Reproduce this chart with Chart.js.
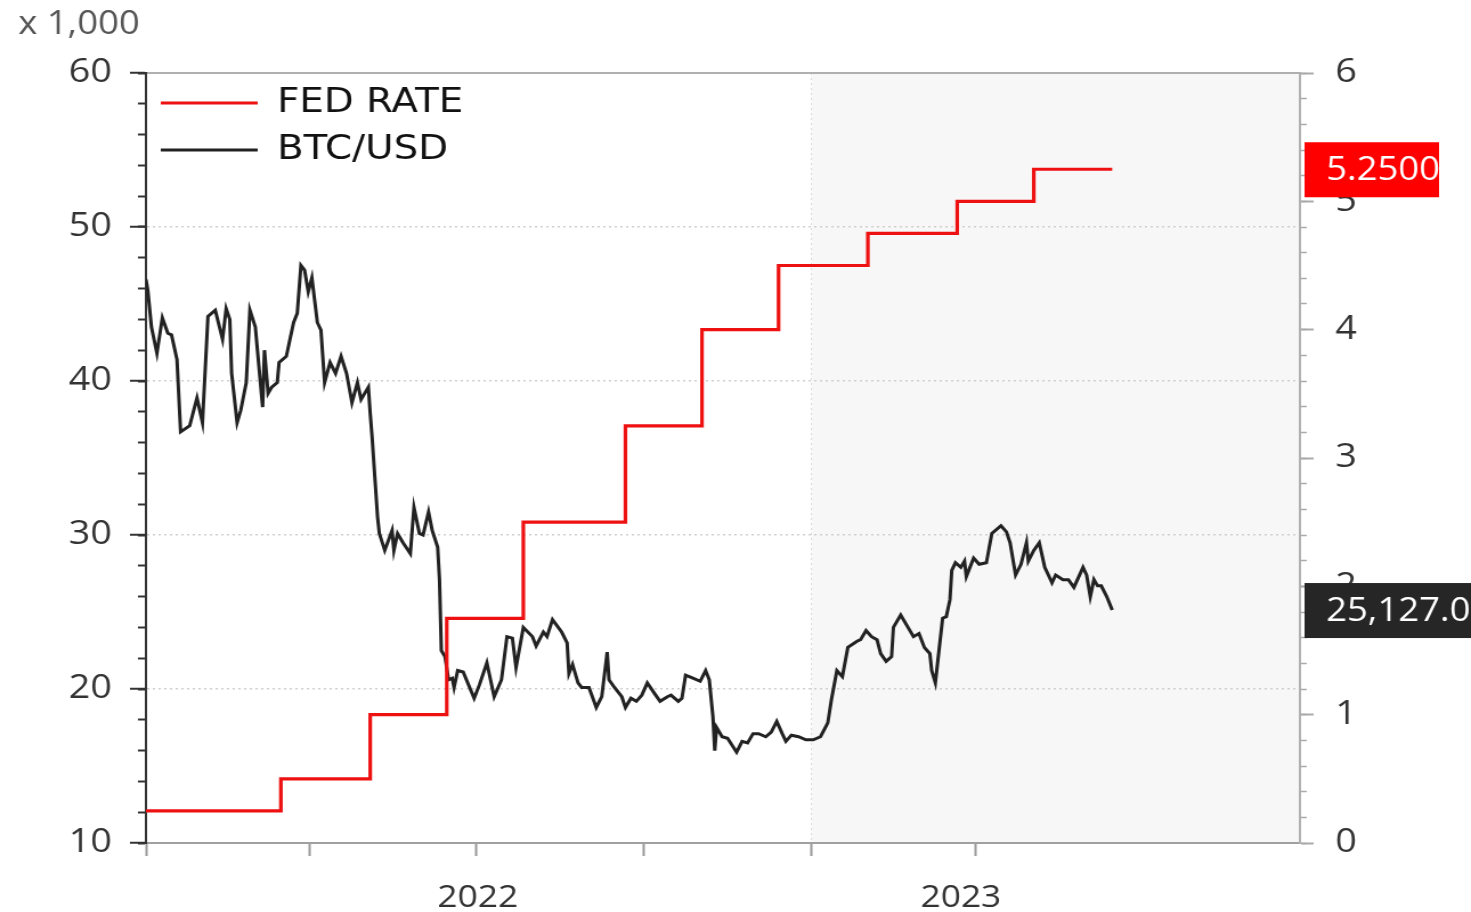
<!DOCTYPE html>
<html>
<head>
<meta charset="utf-8">
<script src="https://cdn.jsdelivr.net/npm/chart.js@4.4.0/dist/chart.umd.min.js"></script>
<style>
  html, body { margin: 0; padding: 0; background: #fff; overflow: hidden; }
  /* the source picture is stretched sideways, so the chart is drawn narrower and widened */
  #wrap { width: 1290px; height: 912px; position: relative; transform: scaleX(1.1403); transform-origin: 0 0; }
</style>
</head>
<body>
<div id="wrap"><canvas id="chart"></canvas></div>
<script>
// x values are day numbers counted from 1 Jan 2022
const fedDays  = [0, 74, 123, 165, 207, 263, 305, 347, 396, 445, 487, 530];
const fedRates = [0.25, 0.5, 1.0, 1.75, 2.5, 3.25, 4.0, 4.5, 4.75, 5.0, 5.25, 5.25];

const btcDays = [
  0, 1, 3, 6, 9, 12, 14, 17, 19, 24, 28, 31, 34, 38, 42, 44, 46, 47, 50, 52,
  55, 57, 60, 64, 65, 67, 69, 72, 73, 77, 81, 83, 85, 87, 89, 91, 94, 96, 98, 101,
  104, 107, 110, 113, 116, 118, 122, 123, 124, 127, 128, 131, 135, 136, 138, 141, 145, 147, 150, 152,
  155, 157, 160, 161, 162, 164, 166, 168, 169, 171, 174, 180, 183, 187, 191, 195, 198, 201, 203, 207,
  212, 214, 218, 220, 223, 228, 231, 232, 234, 237, 239, 243, 247, 250, 253, 254, 257, 261, 263, 266,
  269, 272, 275, 279, 282, 286, 288, 292, 294, 296, 300, 304, 307, 309, 311, 312, 313, 316, 319, 324,
  327, 330, 333, 336, 340, 343, 346, 349, 351, 354, 358, 362, 366, 370, 374, 376, 379, 382, 385, 390,
  392, 395, 398, 401, 403, 406, 409, 410, 414, 418, 421, 424, 427, 430, 431, 433, 435, 437, 439, 441,
  442, 444, 447, 449, 450, 454, 457, 461, 464, 469, 472, 474, 477, 480, 483, 484, 487, 490, 493, 497,
  499, 503, 506, 509, 514, 516, 518, 520, 522, 524, 527, 530
];
const btcValues = [ // x 1,000 USD
  46.6, 45.9, 43.5, 41.8, 44.1, 43.1, 43.0, 41.4, 36.7, 37.1, 38.9, 37.3, 44.2, 44.6, 42.7, 44.7, 44.0, 40.5, 37.3, 38.1,
  39.9, 44.6, 43.5, 38.3, 42.0, 39.2, 39.6, 39.9, 41.2, 41.6, 43.8, 44.4, 47.5, 47.2, 45.8, 46.7, 43.8, 43.3, 39.9, 41.2,
  40.5, 41.6, 40.5, 38.6, 39.9, 38.8, 39.6, 37.9, 36.4, 31.2, 30.1, 29.0, 30.3, 29.0, 30.1, 29.5, 28.8, 31.8, 30.1, 30.0,
  31.5, 30.3, 29.2, 27.1, 22.5, 22.1, 20.6, 20.7, 20.1, 21.2, 21.1, 19.4, 20.3, 21.7, 19.5, 20.6, 23.4, 23.3, 21.4, 24.0,
  23.4, 22.8, 23.7, 23.4, 24.5, 23.7, 23.0, 21.0, 21.6, 20.4, 20.1, 20.1, 18.8, 19.5, 22.4, 20.6, 20.1, 19.5, 18.8, 19.4,
  19.2, 19.6, 20.4, 19.7, 19.2, 19.5, 19.6, 19.2, 19.4, 20.9, 20.7, 20.5, 21.2, 20.6, 18.2, 16.0, 17.5, 16.9, 16.8, 15.9,
  16.6, 16.5, 17.1, 17.1, 16.9, 17.2, 17.9, 17.1, 16.6, 17.0, 16.9, 16.7, 16.7, 16.9, 17.8, 19.3, 21.2, 20.8, 22.7, 23.1,
  23.2, 23.8, 23.4, 23.2, 22.3, 21.8, 22.1, 24.0, 24.8, 24.0, 23.4, 23.6, 22.7, 22.3, 21.2, 20.4, 22.5, 24.6, 24.7, 25.8,
  27.7, 28.2, 27.9, 28.3, 27.3, 28.5, 28.1, 28.2, 30.1, 30.6, 30.2, 29.5, 27.4, 28.1, 29.5, 28.3, 29.0, 29.5, 27.9, 26.9,
  27.4, 27.1, 27.1, 26.6, 27.9, 27.4, 26.0, 27.1, 26.7, 26.7, 26.0, 25.127
];

const quarterDays = [0, 90, 181, 273, 365, 455];
const yearLabels = ['2022', '2023'];
const yearLabelDays = [182, 447];
const shadeFromDay = 365;
const lastDay = 633;

const tickFont = { family: 'Open Sans', size: 33 };

const shadePlugin = {
  id: 'shade',
  beforeDraw(chart) {
    const { ctx, chartArea } = chart;
    const x0 = chart.scales.x.getPixelForValue(shadeFromDay);
    ctx.save();
    ctx.fillStyle = '#f7f7f7';
    ctx.fillRect(x0, chartArea.top, chartArea.right - x0, chartArea.bottom - chartArea.top);
    ctx.strokeStyle = '#d8d8d8';
    ctx.lineWidth = 1;
    ctx.setLineDash([2, 3]);
    ctx.beginPath();
    ctx.moveTo(x0, chartArea.top);
    ctx.lineTo(x0, chartArea.bottom);
    ctx.stroke();
    ctx.restore();
  }
};

// chartArea legends get top = 0 from Chart.js, move it down into the plot
const legendInAreaPlugin = {
  id: 'legendInArea',
  afterLayout(chart) {
    const lg = chart.legend;
    if (!lg) return;
    const h = lg.height;
    lg.top = chart.chartArea.top;
    lg.bottom = lg.top + h;
  }
};

// last value tags on the right axis
const badgePlugin = {
  id: 'badges',
  afterDraw(chart) {
    const { ctx, chartArea } = chart;
    const lastFed = fedRates[fedRates.length - 1];
    const lastBtc = btcValues[btcValues.length - 1];
    const items = [
      { y: chart.scales.y1.getPixelForValue(lastFed), text: lastFed.toFixed(4), bg: '#ff0000', w: 118 },
      { y: chart.scales.y.getPixelForValue(lastBtc),
        text: (lastBtc * 1000).toLocaleString('en-US', { minimumFractionDigits: 1, maximumFractionDigits: 1 }),
        bg: '#262626', w: 160 }
    ];
    ctx.save();
    ctx.font = '32px "Open Sans"';
    ctx.textBaseline = 'middle';
    items.forEach(it => {
      const x = chartArea.right + 4;
      ctx.fillStyle = it.bg;
      ctx.fillRect(x, it.y - 27, it.w, 55);
      ctx.fillStyle = '#ffffff';
      ctx.fillText(it.text, x + 19, it.y + 2);
    });
    ctx.restore();
  }
};

new Chart(document.getElementById('chart'), {
  type: 'line',
  data: {
    datasets: [{
      label: 'FED RATE',
      data: fedDays.map((d, i) => ({ x: d, y: fedRates[i] })),
      yAxisID: 'y1',
      borderColor: '#ee1111',
      backgroundColor: '#ee1111',
      borderWidth: 3.2,
      stepped: 'before',
      pointRadius: 0
    }, {
      label: 'BTC/USD',
      data: btcDays.map((d, i) => ({ x: d, y: btcValues[i] })),
      yAxisID: 'y',
      borderColor: '#222222',
      backgroundColor: '#222222',
      borderWidth: 3,
      tension: 0,
      pointRadius: 0
    }]
  },
  options: {
    responsive: true,
    maintainAspectRatio: false,
    animation: false,
    layout: { padding: { left: 16, right: 0, top: 0, bottom: 0 } },
    plugins: {
      title: {
        display: true,
        text: 'x 1,000',
        align: 'start',
        color: '#555',
        font: { family: 'Open Sans', size: 32, weight: 'normal', lineHeight: 1.2 },
        padding: { top: 6, bottom: 28.6 }
      },
      legend: {
        position: 'chartArea',
        align: 'start',
        labels: {
          font: { family: 'DejaVu Sans', size: 34 },
          color: '#111',
          boxWidth: 85,
          boxHeight: 0,
          padding: 13
        }
      },
      tooltip: { enabled: false }
    },
    scales: {
      x: {
        type: 'linear',
        position: 'bottom',
        min: 0,
        max: lastDay,
        afterBuildTicks: scale => {
          scale.ticks = quarterDays.concat(yearLabelDays).sort((a, b) => a - b).map(v => ({ value: v }));
        },
        afterFit: scale => { scale.height = 69; },
        ticks: {
          autoSkip: false,
          maxRotation: 0,
          padding: 24,
          color: '#333',
          font: { family: 'Open Sans', size: 31 },
          callback: value => {
            const i = yearLabelDays.indexOf(value);
            return i >= 0 ? yearLabels[i] : '';
          }
        },
        grid: {
          drawOnChartArea: false,
          tickLength: 13,
          tickWidth: 2,
          tickColor: c => (c.tick && quarterDays.includes(c.tick.value)) ? '#999' : 'rgba(0,0,0,0)'
        },
        border: { color: '#a0a0a0', width: 2 }
      },
      xTop: {
        type: 'linear',
        position: 'top',
        min: 0,
        max: lastDay,
        ticks: { display: false },
        grid: { display: false, drawTicks: false },
        afterFit: scale => { scale.height = 0; },
        border: { color: '#b0b0b0', width: 2 }
      },
      y: {
        type: 'linear',
        position: 'left',
        weight: 1,
        min: 10,
        max: 60,
        afterBuildTicks: scale => {
          scale.ticks = [10, 20, 30, 40, 50, 60].map(v => ({ value: v }));
        },
        afterFit: scale => { scale.width = 112; },
        ticks: { padding: 16, color: '#333', font: tickFont },
        grid: {
          color: c => (c.tick && (c.tick.value === 10 || c.tick.value === 60)) ? 'rgba(0,0,0,0)' : '#cfcfcf',
          lineWidth: 1.5,
          tickLength: 14,
          tickWidth: 2,
          tickColor: '#333'
        },
        border: { color: '#333', width: 2, dash: [2, 3] }
      },
      yMinor: {
        type: 'linear',
        position: 'left',
        weight: 0,
        min: 10,
        max: 60,
        ticks: { display: false, stepSize: 2 },
        afterFit: scale => { scale.width = 0; },
        grid: { drawOnChartArea: false, tickLength: 7, tickWidth: 2, tickColor: '#333' },
        border: { color: '#333', width: 2 }
      },
      y1: {
        type: 'linear',
        position: 'right',
        weight: 1,
        min: 0,
        max: 6,
        ticks: { stepSize: 1, padding: 19, color: '#333', font: tickFont },
        afterFit: scale => { scale.width = 150; },
        grid: { drawOnChartArea: false, tickLength: 12, tickWidth: 2, tickColor: '#aaa' },
        border: { color: '#b0b0b0', width: 2 }
      },
      y1Minor: {
        type: 'linear',
        position: 'right',
        weight: 0,
        min: 0,
        max: 6,
        ticks: { display: false, stepSize: 0.2 },
        afterFit: scale => { scale.width = 0; },
        grid: { drawOnChartArea: false, tickLength: 6, tickWidth: 1.5, tickColor: '#aaa' },
        border: { color: '#b0b0b0', width: 2 }
      }
    }
  },
  plugins: [shadePlugin, legendInAreaPlugin, badgePlugin]
});
</script>
</body>
</html>
